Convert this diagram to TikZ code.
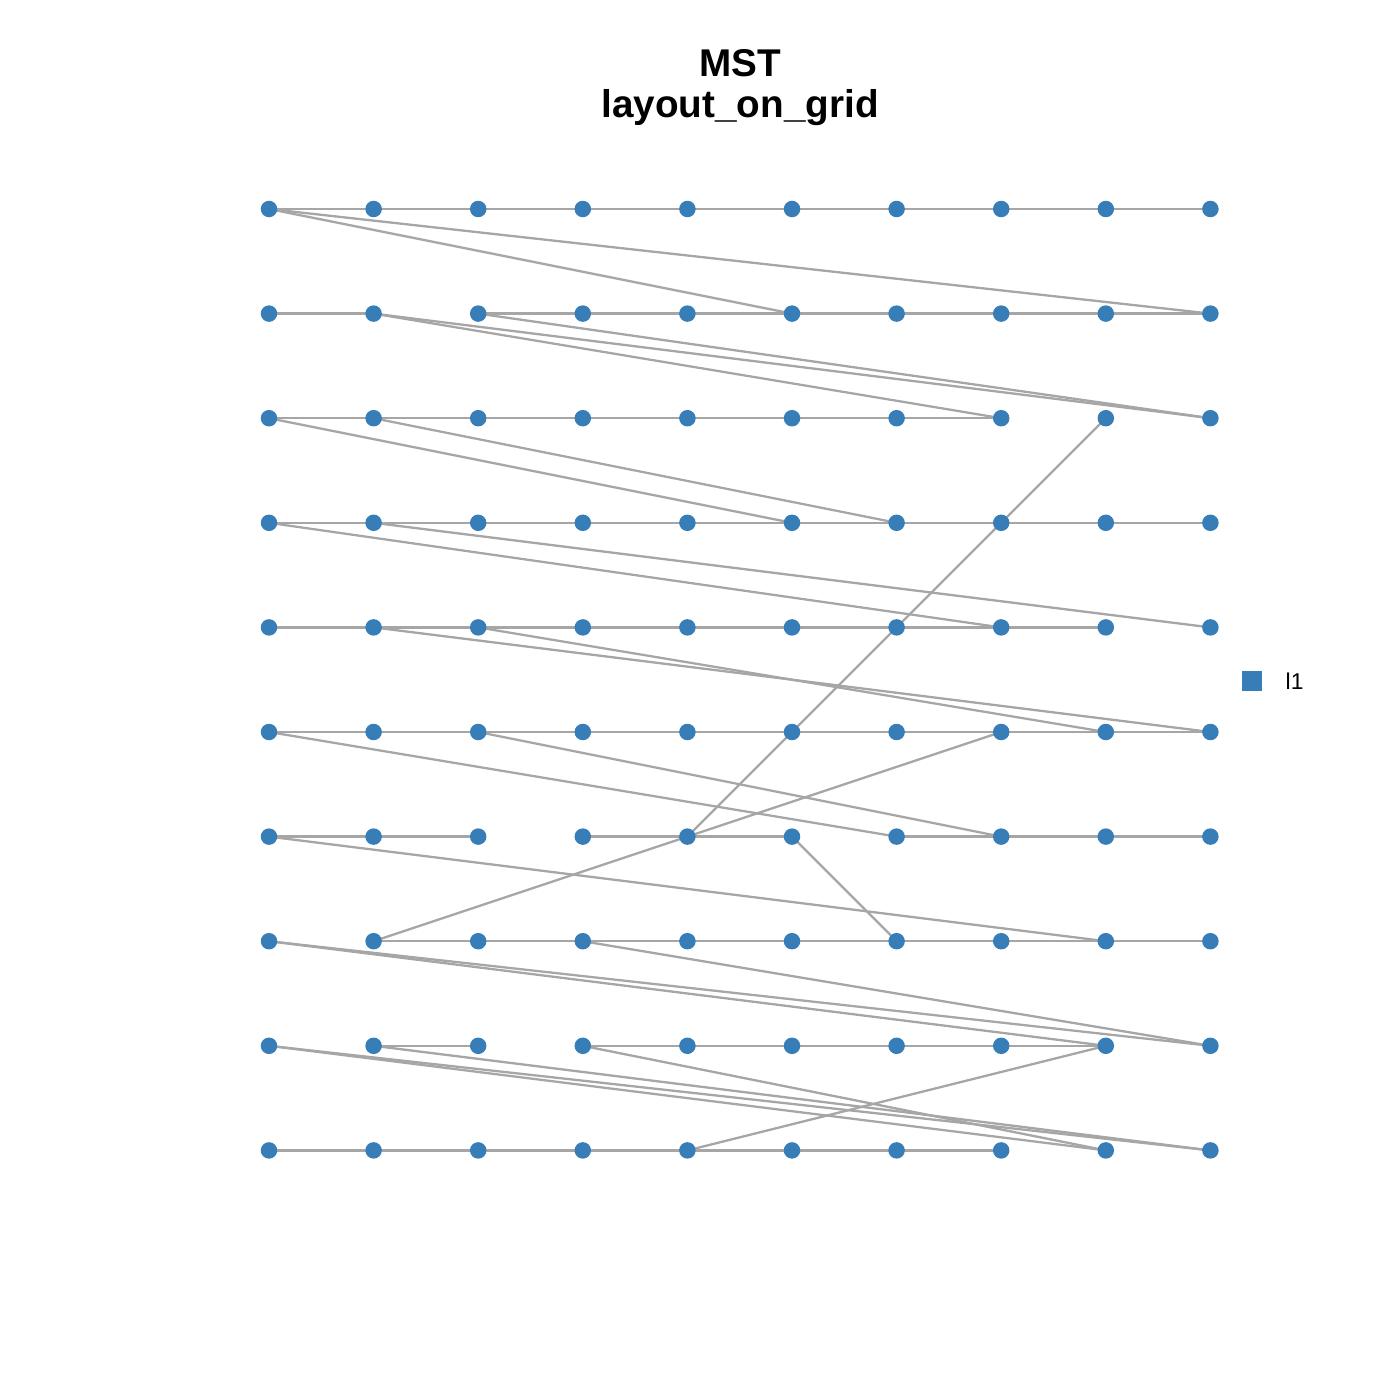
\documentclass[tikz,border=0pt]{standalone}
\usepackage{fontspec}
\setmainfont{Liberation Sans}
\definecolor{ptblue}{HTML}{377EB8}
\definecolor{edgegray}{HTML}{A6A6A6}

\begin{document}
\begin{tikzpicture}[x=0.01cm,y=-0.01cm,
  edge/.style={draw=edgegray,line width=0.65pt},
  dot/.style={circle,fill=ptblue,inner sep=0pt,minimum size=0.165cm}]
  \useasboundingbox (0,0) rectangle (1400,1400);
  \foreach \r in {0,...,9}
    \foreach \c in {0,...,9}
      \coordinate (n-\r-\c) at ({269+104.6*\c},{209+104.6*\r});
  % rows
  \draw[edge] (n-0-0) -- (n-0-9);
  \draw[edge] (n-1-0) -- (n-1-1);
  \draw[edge] (n-1-2) -- (n-1-9);
  \draw[edge] (n-2-0) -- (n-2-7);
  \draw[edge] (n-3-0) -- (n-3-9);
  \draw[edge] (n-4-0) -- (n-4-8);
  \draw[edge] (n-5-0) -- (n-5-9);
  \draw[edge] (n-6-0) -- (n-6-2);
  \draw[edge] (n-6-3) -- (n-6-5);
  \draw[edge] (n-6-6) -- (n-6-9);
  \draw[edge] (n-7-1) -- (n-7-9);
  \draw[edge] (n-8-1) -- (n-8-2);
  \draw[edge] (n-8-3) -- (n-8-8);
  \draw[edge] (n-9-0) -- (n-9-7);
  % links between rows
  \draw[edge] (n-0-0) -- (n-1-5);
  \draw[edge] (n-0-0) -- (n-1-9);
  \draw[edge] (n-1-1) -- (n-2-7);
  \draw[edge] (n-1-1) -- (n-2-9);
  \draw[edge] (n-1-2) -- (n-2-9);
  \draw[edge] (n-2-0) -- (n-3-5);
  \draw[edge] (n-2-1) -- (n-3-6);
  \draw[edge] (n-2-8) -- (n-6-4);
  \draw[edge] (n-3-0) -- (n-4-7);
  \draw[edge] (n-3-1) -- (n-4-9);
  \draw[edge] (n-4-1) -- (n-5-9);
  \draw[edge] (n-4-2) -- (n-5-8);
  \draw[edge] (n-5-0) -- (n-6-6);
  \draw[edge] (n-5-2) -- (n-6-7);
  \draw[edge] (n-5-7) -- (n-7-1);
  \draw[edge] (n-6-0) -- (n-7-8);
  \draw[edge] (n-6-5) -- (n-7-6);
  \draw[edge] (n-7-0) -- (n-8-8);
  \draw[edge] (n-7-0) -- (n-8-9);
  \draw[edge] (n-7-3) -- (n-8-9);
  \draw[edge] (n-8-0) -- (n-9-8);
  \draw[edge] (n-8-0) -- (n-9-9);
  \draw[edge] (n-8-1) -- (n-9-9);
  \draw[edge] (n-8-3) -- (n-9-8);
  \draw[edge] (n-8-8) -- (n-9-4);
  \foreach \r in {0,...,9}
    \foreach \c in {0,...,9}
      \node[dot] (v-\r-\c) at (n-\r-\c) {};
  \node[anchor=base,font=\bfseries\fontsize{11}{13}\selectfont] (title) at (740,77) {MST};
  \node[anchor=base,font=\bfseries\fontsize{11}{13}\selectfont] (subtitle) at (740,118) {layout\_on\_grid};
  \node[fill=ptblue,inner sep=0pt,minimum size=0.2cm] (key) at (1252,681) {};
  \node[anchor=base west,inner sep=0pt,font=\fontsize{6.5}{8}\selectfont] (keylab) at (1285,689) {l1};
\end{tikzpicture}
\end{document}
